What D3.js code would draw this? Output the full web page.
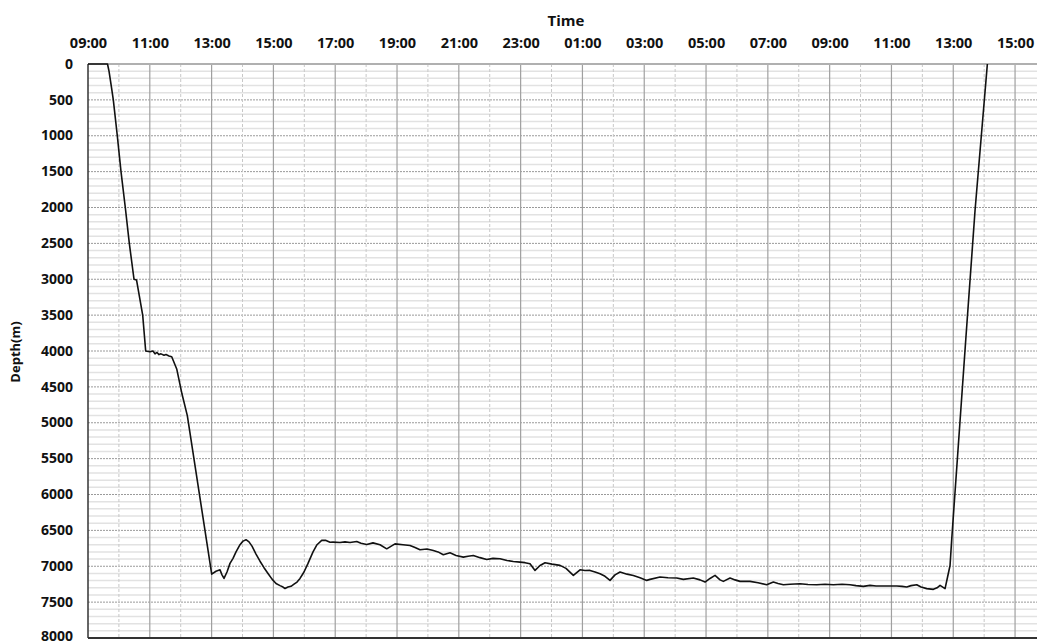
<!DOCTYPE html>
<html>
<head>
<meta charset="utf-8">
<script src="https://cdn.jsdelivr.net/npm/d3@7/dist/d3.min.js"></script>
<style>
  html, body { margin: 0; padding: 0; background: #fff; }
  svg { display: block; font-family: "Open Sans", "Liberation Sans", sans-serif; }
</style>
</head>
<body>
<svg id="chart" width="1037" height="644"></svg>
<script>
// Elapsed hours since 09:00 on day one
const elapsedHours = [
  0, 0.631, 0.680, 0.761, 0.819, 0.948, 1.068, 1.207, 1.337, 1.489, 1.570, 1.770, 1.867,
  2.006, 2.104, 2.168, 2.233, 2.298, 2.362, 2.460, 2.524, 2.621, 2.709, 2.871, 3.042, 3.214,
  4.003, 4.142, 4.272, 4.337, 4.401, 4.498, 4.595, 4.693, 4.790, 4.919, 5.016, 5.113, 5.210,
  5.307, 5.437, 5.566, 5.696, 5.825, 5.955, 6.084, 6.214, 6.311, 6.375, 6.472, 6.570, 6.667,
  6.764, 6.861, 6.990, 7.120, 7.282, 7.411, 7.563, 7.702, 7.832, 7.929, 8.155, 8.317, 8.479,
  8.696, 8.835, 9.019, 9.223, 9.450, 9.667, 9.935, 10.194, 10.421, 10.583, 10.744, 10.971,
  11.175, 11.327, 11.498, 11.715, 11.909, 12.146, 12.298, 12.469, 12.686, 12.903, 13.107,
  13.333, 13.560, 13.764, 13.981, 14.142, 14.304, 14.466, 14.628, 14.790, 15.016, 15.275,
  15.469, 15.706, 15.922, 16.084, 16.246, 16.408, 16.570, 16.731, 16.893, 17.055, 17.217,
  17.443, 17.647, 17.864, 18.081, 18.188, 18.511, 18.770, 19.052, 19.265, 19.589, 19.806,
  19.968, 20.129, 20.291, 20.453, 20.560, 20.777, 20.939, 21.100, 21.424, 21.683, 21.964,
  22.178, 22.330, 22.502, 22.718, 23.042, 23.301, 23.583, 23.851, 24.120, 24.401, 24.660,
  24.854, 25.091, 25.307, 25.502, 25.738, 25.955, 26.171, 26.343, 26.495, 26.634, 26.818,
  26.958, 27.142, 27.356, 27.476, 27.573, 27.735, 27.816, 27.896, 27.951, 28.405, 28.706,
  29.104
];
// Depth in metres
const depthValues = [
  0, 0, 100, 330, 500, 1000, 1500, 2000, 2500, 3000, 3010, 3500, 4000,
  4010, 4000, 4040, 4020, 4050, 4040, 4060, 4050, 4070, 4080, 4250, 4600, 4900,
  7110, 7070, 7050, 7120, 7170, 7080, 6960, 6890, 6800, 6700, 6650, 6630, 6660,
  6720, 6830, 6930, 7020, 7100, 7180, 7240, 7270, 7290, 7310, 7290, 7280, 7250,
  7220, 7170, 7080, 6960, 6800, 6700, 6640, 6640, 6665, 6664, 6670, 6660, 6670,
  6655, 6680, 6697, 6674, 6700, 6757, 6688, 6700, 6711, 6740, 6771, 6760,
  6781, 6800, 6840, 6813, 6850, 6873, 6860, 6850, 6880, 6906, 6890,
  6896, 6920, 6933, 6942, 6950, 6965, 7058, 6990, 6951, 6970, 6988,
  7030, 7128, 7049, 7060, 7058, 7080, 7104, 7140, 7197, 7120, 7081,
  7110, 7128, 7160, 7197, 7183, 7150, 7160, 7164, 7183, 7164, 7190,
  7220, 7170, 7128, 7190, 7211, 7164, 7190, 7211, 7211, 7230, 7257,
  7220, 7240, 7257, 7250, 7243, 7255, 7257, 7250, 7257, 7250, 7257,
  7270, 7280, 7266, 7275, 7275, 7275, 7275, 7280, 7289, 7270, 7257,
  7290, 7312, 7322, 7300, 7266, 7312, 7150, 6990, 6620, 3840, 2035,
  0
];
const depthTicks = d3.range(0, 8001, 500);
const depthMinorTicks = d3.range(0, 8001, 100).filter(v => v % 500 !== 0);
const timeStart = new Date(2020, 0, 1, 9, 0);
const timeEndHours = 30.71;

const svg = d3.select("#chart");
const pL = 88, pT = 64, pR = 1037, pB = 638;

const startMs = timeStart.getTime();
const x = d3.scaleTime()
  .domain([timeStart, new Date(startMs + timeEndHours * 3600e3)])
  .range([pL, pR]);
const y = d3.scaleLinear().domain([0, 8000]).range([pT, pB]);

const data = elapsedHours.map((h, i) => ({ t: new Date(startMs + h * 3600e3), d: depthValues[i] }));

const majorHours = x.ticks(d3.timeHour.filter(d => d.getHours() % 2 === 1));
const minorHours = x.ticks(d3.timeHour.filter(d => d.getHours() % 2 === 0));

const grid = svg.append("g");
grid.selectAll("line.hmin").data(depthMinorTicks).join("line")
  .attr("x1", pL).attr("x2", pR)
  .attr("y1", d => y(d)).attr("y2", d => y(d))
  .attr("stroke", "#e2e2e2").attr("stroke-width", 1.5);
grid.selectAll("line.hmaj").data(depthTicks.slice(1, -1)).join("line")
  .attr("x1", pL).attr("x2", pR)
  .attr("y1", d => y(d)).attr("y2", d => y(d))
  .attr("stroke", "#9a9a9a").attr("stroke-width", 1).attr("stroke-dasharray", "2,1");
grid.selectAll("line.vmin").data(minorHours).join("line")
  .attr("x1", d => x(d)).attr("x2", d => x(d))
  .attr("y1", pT).attr("y2", pB)
  .attr("stroke", "#c8c8c8").attr("stroke-width", 1).attr("stroke-dasharray", "3,2");
grid.selectAll("line.vmaj").data(majorHours.filter(d => x(d) > pL + 1)).join("line")
  .attr("x1", d => x(d)).attr("x2", d => x(d))
  .attr("y1", pT).attr("y2", pB)
  .attr("stroke", "#a0a0a0").attr("stroke-width", 1.2);

svg.append("line").attr("x1", pL).attr("x2", pR).attr("y1", pT).attr("y2", pT)
  .attr("stroke", "#b0b0b0").attr("stroke-width", 2);
svg.append("line").attr("x1", pL).attr("x2", pR).attr("y1", pB).attr("y2", pB)
  .attr("stroke", "#333").attr("stroke-width", 2);
svg.append("line").attr("x1", pL).attr("x2", pL).attr("y1", pT).attr("y2", pB)
  .attr("stroke", "#333").attr("stroke-width", 1.5);

const xAxis = svg.append("g").attr("transform", `translate(0,${pT})`)
  .call(d3.axisTop(x).tickValues(majorHours).tickFormat(d3.timeFormat("%H:%M")).tickSize(0).tickPadding(16));
xAxis.select(".domain").remove();
xAxis.selectAll("text").attr("font-size", 14.5).attr("font-weight", 700).attr("fill", "#111")
  .attr("font-family", "'Open Sans', sans-serif");

const yAxis = svg.append("g").attr("transform", `translate(${pL},0)`)
  .call(d3.axisLeft(y).tickValues(depthTicks).tickFormat(d3.format("d")).tickSize(0).tickPadding(15));
yAxis.select(".domain").remove();
yAxis.selectAll("text").attr("font-size", 14).attr("font-weight", 700).attr("fill", "#111")
  .attr("dy", d => d === 8000 ? "2px" : "0.3em")
  .attr("font-family", "'Open Sans', sans-serif");

svg.append("text").attr("x", 566).attr("y", 26).attr("text-anchor", "middle")
  .attr("font-size", 15).attr("font-weight", 700).attr("fill", "#111").text("Time");
svg.append("text").attr("transform", "translate(20,352) rotate(-90)").attr("text-anchor", "middle")
  .attr("font-size", 13).attr("font-weight", 700).attr("fill", "#111").text("Depth(m)");

svg.append("path").datum(data)
  .attr("fill", "none").attr("stroke", "#111").attr("stroke-width", 1.6)
  .attr("stroke-linejoin", "round")
  .attr("d", d3.line().x(d => x(d.t)).y(d => y(d.d)));
</script>
</body>
</html>
